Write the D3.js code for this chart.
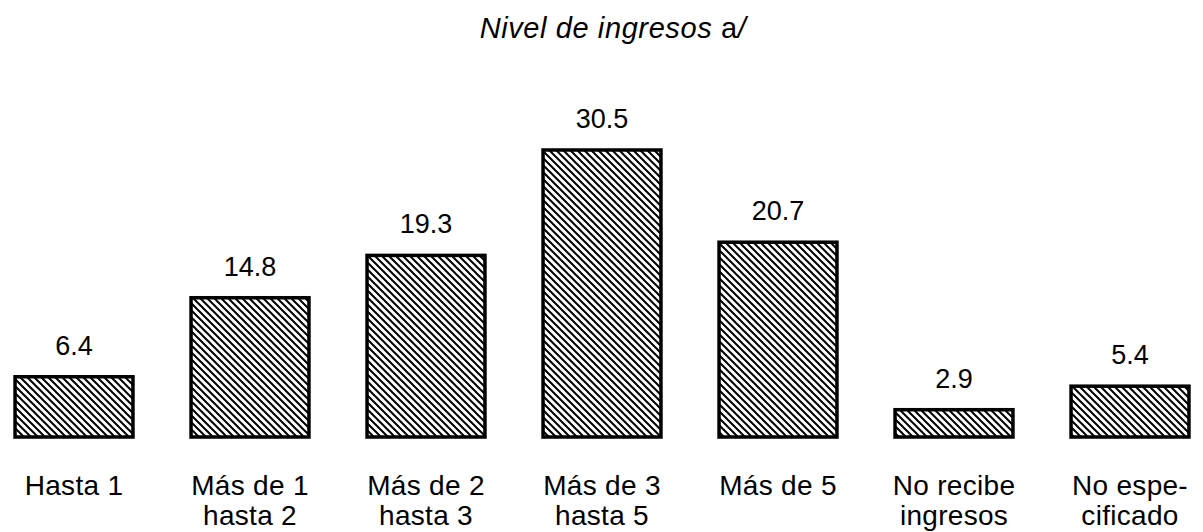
<!DOCTYPE html>
<html>
<head>
<meta charset="utf-8">
<script src="https://cdn.jsdelivr.net/npm/d3@7"></script>
<style>
  body { margin: 0; background: #fff; }
  svg text { font-family: "Liberation Sans", Arial, sans-serif; fill: #000; }
</style>
</head>
<body>
<div id="chart"></div>
<script>
var categories = [
    ["Hasta 1"],
    ["Más de 1", "hasta 2"],
    ["Más de 2", "hasta 3"],
    ["Más de 3", "hasta 5"],
    ["Más de 5"],
    ["No recibe", "ingresos"],
    ["No espe-", "cificado"]
];
var values = [6.4, 14.8, 19.3, 30.5, 20.7, 2.9, 5.4];
var valueLabels = ["6.4", "14.8", "19.3", "30.5", "20.7", "2.9", "5.4"];

var width = 1203,
    height = 532,
    baseY = 437;

var svg = d3.select("#chart").append("svg")
            .attr("width", width)
            .attr("height", height);

// diagonal hatch, top-left to bottom-right
var p = 7;
var defs = svg.append("defs");
defs.append("pattern")
    .attr("id", "hatch")
    .attr("patternUnits", "userSpaceOnUse")
    .attr("width", p)
    .attr("height", p)
    .append("path")
    .attr("d", "M-1,-1L" + (p + 1) + "," + (p + 1) +
               "M" + (p - 1) + ",-1L" + (p + 1) + ",1" +
               "M-1," + (p - 1) + "L1," + (p + 1))
    .attr("stroke", "#000")
    .attr("stroke-width", 2);

var x = d3.scaleBand()
          .domain(d3.range(values.length))
          .range([-14, 1218])
          .paddingInner(0.33)
          .paddingOuter(0.165);

var y = d3.scaleLinear()
          .domain([0, 30.5])
          .range([baseY, 150]);

svg.append("text")
   .attr("x", 613)
   .attr("y", 38)
   .attr("text-anchor", "middle")
   .style("font-size", "29px")
   .style("letter-spacing", "0.6px")
   .call(function(t) {
       t.append("tspan").style("font-style", "italic").text("Nivel de ingresos ");
       t.append("tspan").text("a");
       t.append("tspan").style("font-style", "italic").text("/");
   });

var bars = svg.selectAll(".bar")
              .data(values)
              .enter()
              .append("g")
              .attr("class", "bar");

bars.append("rect")
    .attr("x", function(d, i) {return x(i); })
    .attr("y", function(d) {return y(d); })
    .attr("width", x.bandwidth())
    .attr("height", function(d) {return baseY - y(d); })
    .attr("fill", "url(#hatch)")
    .attr("stroke", "#000")
    .attr("stroke-width", 3.5);

bars.append("text")
    .attr("x", function(d, i) {return x(i) + x.bandwidth() / 2; })
    .attr("y", function(d) {return y(d) - 22; })
    .attr("text-anchor", "middle")
    .style("font-size", "27px")
    .text(function(d, i) {return valueLabels[i]; });

var catText = svg.selectAll(".cat")
                 .data(categories)
                 .enter()
                 .append("text")
                 .attr("class", "cat")
                 .attr("text-anchor", "middle")
                 .style("font-size", "28px")
                 .style("letter-spacing", "0.3px");

catText.selectAll("tspan")
       .data(function(d, i) {return d.map(function(s) {return {s: s, i: i}; }); })
       .enter()
       .append("tspan")
       .attr("x", function(d) {return x(d.i) + x.bandwidth() / 2; })
       .attr("y", function(d, j) {return 495 + j * 30; })
       .text(function(d) {return d.s; });
</script>
</body>
</html>
